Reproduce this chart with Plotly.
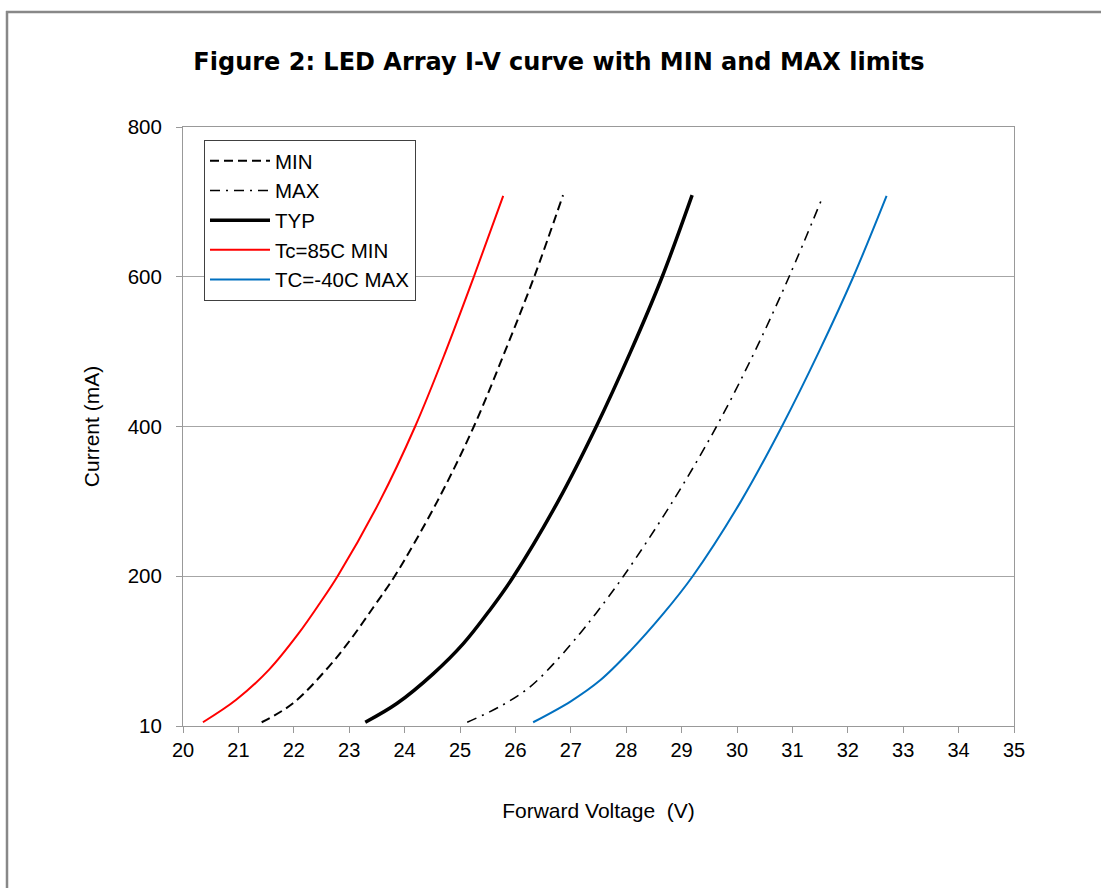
import plotly.graph_objects as go

# ---- data ----
min_v = [21.42, 21.98, 22.63, 23.02, 23.44, 23.82, 24.59, 25.25, 25.81, 26.34, 26.86]
min_i = [5, 30, 79, 115, 159, 200, 300, 400, 500, 600, 709]

max_v = [25.13, 25.72, 26.26, 26.75, 27.17, 27.45, 27.95, 28.84, 29.63, 30.32, 30.94, 31.52]
max_i = [5, 26, 52, 88, 124, 150, 200, 300, 400, 500, 600, 702]

typ_v = [23.29, 23.86, 24.52, 25.06, 25.54, 25.96, 26.77, 27.46, 28.08, 28.65, 29.19]
typ_i = [5, 30, 70, 110, 155, 199, 300, 400, 500, 600, 709]

red_v = [20.36, 20.96, 21.55, 22.09, 22.47, 22.79, 23.55, 24.19, 24.74, 25.25, 25.78]
red_i = [5, 35, 75, 124, 164, 200, 300, 400, 500, 600, 708]

blue_v = [26.32, 27.00, 27.53, 28.07, 28.67, 29.20, 30.07, 30.81, 31.48, 32.10, 32.70]
blue_i = [5, 33, 61, 100, 150, 200, 300, 400, 500, 600, 708]

x_ticks = list(range(20, 36))
y_tickvals = [0, 200, 400, 600, 800]
y_ticktext = ["10", "200", "400", "600", "800"]

series = [
    ("MIN", min_v, min_i, dict(color="black", width=2, dash="9px,5px")),
    ("MAX", max_v, max_i, dict(color="black", width=1.6, dash="10px,6px,2px,6px")),
    ("TYP", typ_v, typ_i, dict(color="black", width=3.5)),
    ("Tc=85C MIN", red_v, red_i, dict(color="#FF0000", width=2)),
    ("TC=-40C MAX", blue_v, blue_i, dict(color="#0070C0", width=2)),
]

fig = go.Figure()
for name, xs, ys, ln in series:
    fig.add_trace(go.Scatter(x=xs, y=ys, mode="lines", name=name,
                             line=dict(shape="spline", smoothing=1.0, **ln)))

W, H = 1101, 888
L, R, T, B = 183, 1014, 127, 726
pw, ph = R - L, B - T

def px(x):
    return (x - L) / pw

def py(y):
    return (B - y) / ph

fig.update_layout(
    width=W, height=H,
    margin=dict(l=L, r=W - R, t=T, b=H - B, pad=0),
    paper_bgcolor="white", plot_bgcolor="white",
    font=dict(family="Liberation Sans, Arial, sans-serif", size=20, color="black"),
    title=dict(text="<b>Figure 2: LED Array I-V curve with MIN and MAX limits</b>",
               x=px(559), xref="paper", xanchor="center",
               y=1 - 62 / H, yref="container", yanchor="middle",
               font=dict(family="DejaVu Sans, Verdana, sans-serif", size=24, color="black")),
    xaxis=dict(range=[20, 35], tickvals=x_ticks, ticks="outside", ticklen=6,
               tickcolor="#999999", showline=True, linecolor="#999999", linewidth=1,
               mirror=True, showgrid=False, zeroline=False,
               tickfont=dict(size=20),
               title=dict(text="Forward Voltage  (V)", standoff=43,
                          font=dict(size=21))),
    yaxis=dict(range=[0, 800], tickvals=y_tickvals, ticktext=y_ticktext,
               ticks="outside", ticklen=6, tickcolor="#999999",
               showline=True, linecolor="#999999", linewidth=1, mirror=True,
               showgrid=True, gridcolor="#A6A6A6", gridwidth=1, zeroline=False,
               tickfont=dict(size=20.5), ticklabelstandoff=10,
               title=dict(text="Current (mA)", standoff=22, font=dict(size=21))),
    legend=dict(x=px(204), y=py(140), xanchor="left", yanchor="top",
                bgcolor="white", bordercolor="#404040", borderwidth=1,
                font=dict(size=20.5, color="black"), itemwidth=60,
                tracegroupgap=0),
    showlegend=True,
)

# outer chart border (left and top edges visible)
fig.add_shape(type="line", xref="paper", yref="paper",
              x0=px(7), x1=px(7), y0=py(11), y1=py(H + 5),
              line=dict(color="#888888", width=2.5))
fig.add_shape(type="line", xref="paper", yref="paper",
              x0=px(6), x1=px(W + 5), y0=py(12), y1=py(12),
              line=dict(color="#888888", width=2.5))

fig.write_html("out.html")
